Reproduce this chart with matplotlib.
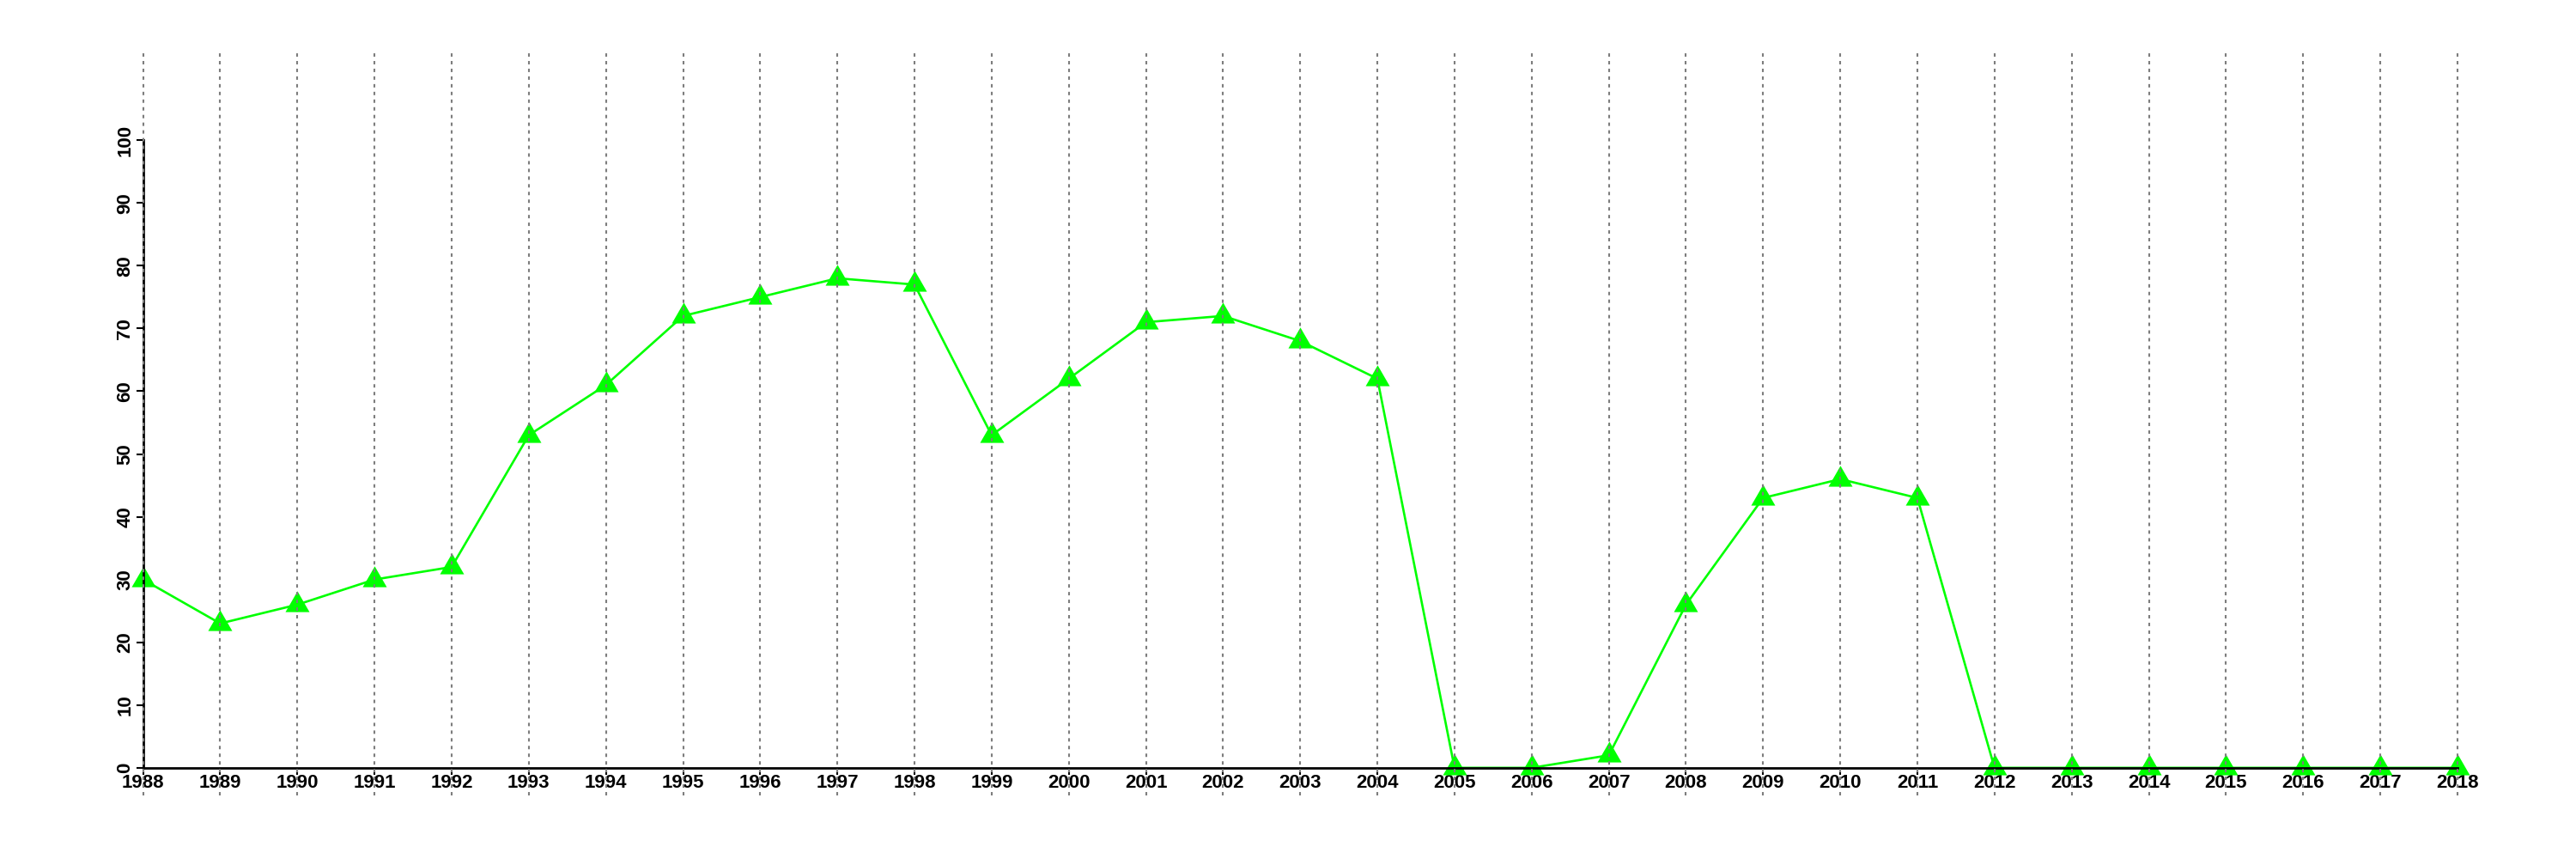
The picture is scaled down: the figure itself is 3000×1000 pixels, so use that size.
import numpy as np
import matplotlib.pyplot as plt
from matplotlib.path import Path

# dados
anos = list(range(1988, 2019))
valores = [30, 23, 26, 30, 32, 53, 61, 72, 75, 78, 77, 53, 62, 71, 72, 68, 62,
           0, 0, 2, 26, 43, 46, 43, 0, 0, 0, 0, 0, 0, 0]
yticks = list(range(0, 101, 10))

plt.rcParams['font.family'] = ['Liberation Sans', 'DejaVu Sans']

# triângulo equilátero centrado no baricentro (como o pch=17 do R)
triangulo = Path([(0, 1), (-0.866, -0.5), (0.866, -0.5), (0, 1)],
                 [Path.MOVETO, Path.LINETO, Path.LINETO, Path.CLOSEPOLY])

fig = plt.figure(figsize=(30, 10), dpi=100)
ax = fig.add_axes([0.0196, 0.074, 0.9703, 0.868])

# eixos no estilo do R (precisa vir antes dos rótulos, senão os ticks são recriados)
for s in ['top', 'right']:
    ax.spines[s].set_visible(False)
ax.spines['left'].set_position(('data', 1988))
ax.spines['bottom'].set_position(('data', 0))
ax.spines['left'].set_bounds(0, 100)
ax.spines['bottom'].set_bounds(1988, 2018)
for s in ['left', 'bottom']:
    ax.spines[s].set_linewidth(2.0)

# a série fica por baixo dos eixos, como no R
ax.plot(anos, valores, color='#00ff00', linewidth=1.9, zorder=1.5, clip_on=False)
ax.plot(anos, valores, linestyle='none', marker=triangulo, markersize=23.3,
        color='#00ff00', markeredgewidth=0, zorder=1.6, clip_on=False)

# linhas verticais pontilhadas em cada ano (desenhadas por cima de tudo)
for a in anos:
    ax.axvline(a, color='#7d7d7d', linestyle=(0, (1.9, 2.4)), linewidth=1.5, zorder=2.6)

ax.set_xlim(1986.8, 2019.2)
ax.set_ylim(-4.4, 114.4)

ax.set_xticks(anos)
ax.set_yticks(yticks)
ax.tick_params(axis='both', direction='out', length=5.5, width=1.5, labelsize=16)
ax.tick_params(axis='x', pad=0)
ax.tick_params(axis='y', pad=2)
ax.set_xticklabels([str(a) for a in anos], fontsize=16, fontweight='bold')
ax.set_yticklabels([str(v) for v in yticks], fontsize=16, fontweight='bold',
                   rotation=90, va='center')

fig.savefig('out.png', dpi=100)
